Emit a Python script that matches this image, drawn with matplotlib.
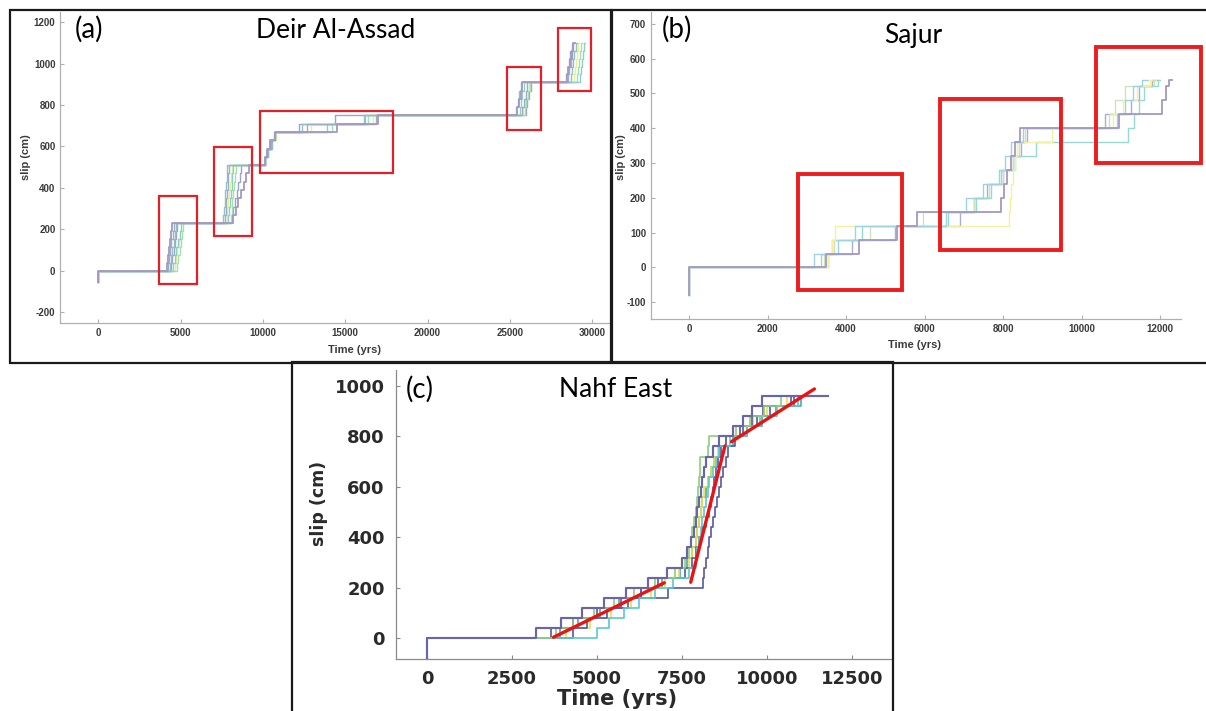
import matplotlib
matplotlib.use('Agg')
import matplotlib.pyplot as plt
from matplotlib.patches import Rectangle
from matplotlib.colors import to_rgb

# ---------------- DATA ----------------
# (a) Deir Al-Assad
slip_a_start = -55
slip_a = [38, 77, 115, 153, 192, 230, 270, 310, 350, 390, 430, 470, 510, 550, 590, 630,
          670, 710, 750, 790, 830, 870, 910, 948, 986, 1024, 1062, 1100]
t_a1 = [4150, 4230, 4300, 4370, 4430, 4500, 8200, 8350, 8520, 8680, 8830, 8980, 9150,
        10100, 10250, 10450, 10730, 14500, 17000, 25450, 25550, 25650, 25750,
        28450, 28550, 28650, 28750, 28850, 28950]
t_a2 = [4250, 4320, 4380, 4440, 4520, 4600, 7700, 7740, 7780, 7820, 7860, 7900, 7950,
        10120, 10280, 10500, 10750, 12700, 16900, 25750, 25850, 25950, 26050,
        28550, 28620, 28700, 28780, 28850, 28900]
t_a3 = [4350, 4430, 4500, 4580, 4650, 4720, 7600, 7640, 7680, 7720, 7760, 7800, 7850,
        10140, 10300, 10550, 10700, 12400, 16150, 25400, 25480, 25560, 25650,
        28700, 28780, 28850, 28920, 29000, 29050]
t_a4 = [4550, 4650, 4750, 4850, 4950, 5050, 7900, 7950, 8000, 8050, 8100, 8150, 8200,
        10110, 10270, 10480, 10760, 13900, 16200, 25600, 25680, 25760, 25850,
        29250, 29300, 29350, 29420, 29480, 29550]
t_a5 = [4800, 4870, 4950, 5020, 5100, 5180, 8050, 8100, 8150, 8200, 8250, 8300, 8350,
        10130, 10290, 10520, 10740, 14200, 16400, 25900, 26000, 26100, 26250,
        29050, 29120, 29180, 29250, 29320, 29380]
t_a6 = [4650, 4730, 4800, 4880, 4950, 5030, 7800, 7850, 7900, 7950, 8000, 8050, 8100,
        10150, 10310, 10530, 10770, 12900, 16700, 25800, 25900, 26000, 26150,
        28900, 28950, 29000, 29080, 29150, 29200]
t_a7 = [4450, 4500, 4580, 4650, 4720, 4800, 8100, 8200, 8300, 8400, 8500, 8600, 8700,
        10100, 10260, 10460, 10720, 12200, 14400, 25950, 26050, 26150, 26300,
        28400, 28500, 28600, 28650, 28750, 28850]
series_a = [t_a1, t_a2, t_a3, t_a4, t_a5, t_a6, t_a7]
boxes_a = [(3664, 6028, -66, 360), (7045, 9361, 168, 597), (9811, 17919, 470, 770),
           (24822, 26879, 680, 985), (27895, 29952, 870, 1175)]
xt_a = [0, 5000, 10000, 15000, 20000, 25000, 30000]
yt_a = [-200, 0, 200, 400, 600, 800, 1000, 1200]

# (b) Sajur
slip_b_start = -80
slip_b = [40, 80, 120, 160, 200, 240, 280, 320, 360, 400, 440, 480, 520, 540]
t_b1 = [3500, 4330, 5300, 5800, 7950, 8030, 8100, 8200, 8300, 8420, 10950, 12050, 12150, 12230, 12300]
t_b2 = [3170, 3800, 4240, 6550, 7050, 7500, 7950, 8050, 8200, 8500, 10900, 11100, 11300, 11550, 11700]
t_b3 = [3550, 3650, 3720, 8150, 8170, 8200, 8250, 8300, 8350, 9250, 10800, 11050, 11400, 11750, 11800]
t_b4 = [3350, 3650, 4400, 6600, 7300, 7700, 7900, 8300, 8850, 11170, 11330, 11450, 11600, 11950, 12000]
t_b5 = [3450, 3700, 4600, 5950, 7250, 7650, 8000, 8250, 8400, 8550, 10700, 10850, 11100, 11850, 11900]
t_b6 = [3550, 4150, 5250, 6900, 7250, 7600, 8000, 8250, 8450, 8600, 10600, 11250, 11450, 11800, 11950]
series_b = [t_b1, t_b2, t_b3, t_b4, t_b5, t_b6]
boxes_b = [(2765, 5432, -65, 268), (6402, 9477, 50, 485), (10369, 13046, 301, 632)]
xt_b = [0, 2000, 4000, 6000, 8000, 10000, 12000]
yt_b = [-100, 0, 100, 200, 300, 400, 500, 600, 700]

# (c) Nahf East
slip_c_start = -80
slip_c = [40, 80, 120, 160, 200, 240, 280, 320, 360, 400, 440, 480, 520, 560, 600, 640,
          680, 720, 760, 800, 840, 880, 920, 960]
t_c1 = [3200, 3950, 4550, 5200, 5850, 6500, 7050, 7500, 7650, 7750, 7850, 7900, 7950, 8000,
        8050, 8100, 8150, 8200, 8400, 8600, 9000, 9300, 9550, 9850, 11800]
t_c2 = [3800, 4300, 4900, 5500, 6100, 6700, 7300, 7600, 7700, 7750, 7800, 7850, 7900, 7950,
        7980, 8000, 8020, 8040, 8250, 8300, 9100, 9500, 9900, 10400, 10800]
t_c3 = [5000, 5350, 5800, 6250, 6700, 7250, 7700, 7900, 7950, 8000, 8050, 8100, 8150, 8200,
        8250, 8300, 8400, 8500, 8600, 8900, 9400, 9800, 10300, 10900, 11000]
t_c4 = [4300, 4700, 5300, 5900, 6300, 6800, 7600, 7800, 7900, 8000, 8100, 8200, 8300, 8350,
        8400, 8450, 8500, 8550, 8650, 8800, 9200, 9700, 10100, 10700, 11000]
t_c5 = [3650, 4300, 5000, 5700, 7080, 8110, 8150, 8200, 8250, 8300, 8350, 8420, 8480, 8540,
        8600, 8650, 8700, 8780, 8850, 9050, 9300, 9550, 9870, 10800, 11000]
t_c6 = [4100, 4800, 5400, 6000, 6600, 7000, 7400, 7700, 7800, 7900, 7950, 8000, 8050, 8100,
        8150, 8250, 8350, 8450, 8550, 8800, 9200, 9600, 10000, 10600, 10800]
t_c7 = [3900, 4450, 5100, 5650, 6300, 6900, 7450, 7650, 7800, 7900, 7950, 8000, 8050, 8100,
        8200, 8250, 8350, 8450, 8600, 9000, 9400, 9850, 10250, 11000, 11100]
series_c = [t_c1, t_c2, t_c3, t_c4, t_c5, t_c6, t_c7]
trend_c = [((3720, 6980), (4, 220)), ((7756, 8763), (222, 762)), ((8957, 11394), (779, 988))]
xt_c = [0, 2500, 5000, 7500, 10000, 12500]
yt_c = [0, 200, 400, 600, 800, 1000]

# ---------------- STYLE ----------------
# first colour of each list is drawn last (on top)
cols_a = ['#46327e', '#365c8d', '#277f8e', '#1fa187', '#4ac16d', '#d0e11c', '#3e4989']
cols_b = ['#46327e', '#3aa6c8', '#e6e04a', '#2fb5a0', '#9cc87a', '#5b5a9e']
cols_c = ['#4e4a96', '#7ac860', '#3cc0c6', '#2a3f9a', '#3b3a8c', '#e8d830', '#26a0a0']

W, H = 1206, 711
fig = plt.figure(figsize=(W / 100, H / 100), dpi=100)
fig.patch.set_facecolor('white')


def light(c, a):
    r, g, b = to_rgb(c)
    return (a * r + 1 - a, a * g + 1 - a, a * b + 1 - a)


def axes_px(l, t, r, b):
    return fig.add_axes([l / W, 1 - b / H, (r - l) / W, (b - t) / H])


def frame_px(l, t, r, b):
    fig.add_artist(Rectangle((l / W, 1 - b / H), (r - l) / W, (b - t) / H,
                             transform=fig.transFigure, fill=False, ec='#1a1a1a',
                             lw=1.6, clip_on=False, zorder=10))


def draw_series(ax, series, levels, start, cols, alpha, lw):
    pairs = list(zip(series, cols))
    n = len(pairs)
    for i, (t, c) in enumerate(reversed(pairs)):
        times = [0, 0] + t
        slips = [start, 0] + levels + [levels[-1]]
        w = lw * 1.3 if i == n - 1 else lw
        ax.step(times, slips, where='post', color=light(c, alpha), lw=w)


def style_axes(ax, xt, yt, size, fam, spine_col, lab_col, tlen, pad):
    for s in ['top', 'right']:
        ax.spines[s].set_visible(False)
    for s in ['left', 'bottom']:
        ax.spines[s].set_color(spine_col)
        ax.spines[s].set_linewidth(0.9)
    ax.set_xticks(xt)
    ax.set_xticklabels([str(v) for v in xt], fontweight='bold', family=fam,
                       fontsize=size, color=lab_col)
    ax.set_yticks(yt)
    ax.set_yticklabels([str(v) for v in yt], fontweight='bold', family=fam,
                       fontsize=size, color=lab_col)
    ax.tick_params(direction='in', length=tlen, width=0.8, color=spine_col, pad=pad)
    ax.set_facecolor('none')


# ---- (a)
ax_a = axes_px(60.3, 12, 610, 323)
draw_series(ax_a, series_a, slip_a, slip_a_start, cols_a, 0.5, 1.0)
for (t0, t1, s0, s1) in boxes_a:
    ax_a.add_patch(Rectangle((t0, s0), t1 - t0, s1 - s0, fill=False, ec='#e32027',
                             lw=1.6, clip_on=False, zorder=5))
ax_a.set_xlim(-2300, 31080)
ax_a.set_ylim(-253, 1250)
style_axes(ax_a, xt_a, yt_a, 7, 'Liberation Sans', '#b0b0b0', '#3a3a3a', 3, 3.5)
ax_a.set_xlabel('Time (yrs)', fontsize=8, fontweight='bold', family='Liberation Sans',
                color='#3a3a3a', va='center', ha='center')
ax_a.xaxis.set_label_coords((355 - 60.3) / 549.7, (323 - 350) / 311)
ax_a.set_ylabel('slip (cm)', fontsize=8, fontweight='bold', family='Liberation Sans',
                color='#3a3a3a', va='center', ha='center')
ax_a.yaxis.set_label_coords((26 - 60.3) / 549.7, (323 - 157) / 311)

# ---- (b)
ax_b = axes_px(651, 12, 1180.5, 319.3)
draw_series(ax_b, series_b, slip_b, slip_b_start, cols_b, 0.5, 1.0)
for (t0, t1, s0, s1) in boxes_b:
    ax_b.add_patch(Rectangle((t0, s0), t1 - t0, s1 - s0, fill=False, ec='#ee1c1c',
                             lw=2.8, clip_on=False, zorder=5))
ax_b.set_xlim(-970, 12520)
ax_b.set_ylim(-149, 734)
style_axes(ax_b, xt_b, yt_b, 7, 'Liberation Sans', '#b0b0b0', '#3a3a3a', 3, 3.5)
ax_b.set_xlabel('Time (yrs)', fontsize=8, fontweight='bold', family='Liberation Sans',
                color='#3a3a3a', va='center', ha='center')
ax_b.xaxis.set_label_coords((915 - 651) / 529.5, (319.3 - 345) / 307.3)
ax_b.set_ylabel('slip (cm)', fontsize=8, fontweight='bold', family='Liberation Sans',
                color='#3a3a3a', va='center', ha='center')
ax_b.yaxis.set_label_coords((621.5 - 651) / 529.5, (319.3 - 157) / 307.3)

# ---- (c)
ax_c = axes_px(395.8, 370, 892, 659)
draw_series(ax_c, series_c, slip_c, slip_c_start, cols_c, 0.85, 1.2)
for (tt, ss) in trend_c:
    ax_c.plot(tt, ss, color='#ee1111', lw=2.4, solid_capstyle='round', zorder=6)
ax_c.set_xlim(-917, 13676)
ax_c.set_ylim(-82, 1063)
style_axes(ax_c, xt_c, yt_c, 13, 'DejaVu Sans', '#8a8a8a', '#2a2a2a', 3, 8)
ax_c.set_xlabel('Time (yrs)', fontsize=15, fontweight='bold', family='DejaVu Sans',
                color='#2a2a2a', va='center', ha='center')
ax_c.xaxis.set_label_coords((617 - 395.8) / 496.2, (659 - 699) / 289)
ax_c.set_ylabel('slip (cm)', fontsize=12.5, fontweight='bold', family='DejaVu Sans',
                color='#2a2a2a', va='center', ha='center')
ax_c.yaxis.set_label_coords((319 - 395.8) / 496.2, (659 - 503) / 289)

# ---- panel labels and titles
tfont = dict(family='Lato', color='black')
fig.text(75 / W, 1 - 29 / H, '(a)', fontsize=20, ha='left', va='center', **tfont)
fig.text(336 / W, 1 - 38 / H, 'Deir Al-Assad', fontsize=19, ha='center', va='baseline', **tfont)
fig.text(662 / W, 1 - 29 / H, '(b)', fontsize=20, ha='left', va='center', **tfont)
fig.text(913 / W, 1 - 42.5 / H, 'Sajur', fontsize=19, ha='center', va='baseline', **tfont)
fig.text(406 / W, 1 - 389 / H, '(c)', fontsize=20, ha='left', va='center', **tfont)
fig.text(616 / W, 1 - 397 / H, 'Nahf East', fontsize=19, ha='center', va='baseline', **tfont)

# ---- panel frames
frame_px(10, 10, 611, 363)
frame_px(612, 10, 1215, 363)
frame_px(292, 362, 893, 720)

fig.savefig('out.png', dpi=100, facecolor='white')
